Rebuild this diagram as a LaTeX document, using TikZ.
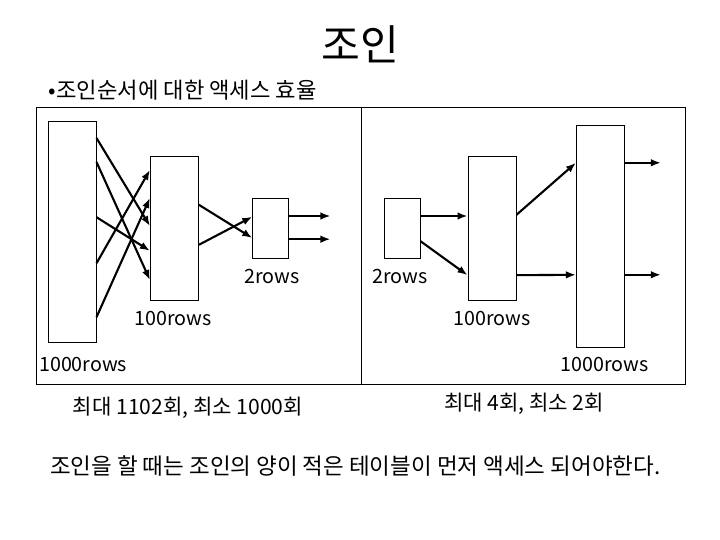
\documentclass[tikz,border=0pt]{standalone}
\usepackage{fontspec}
\setmainfont{Noto Sans CJK KR}
\usepackage{tikz}
\usetikzlibrary{arrows.meta, positioning, calc}

\begin{document}
\begin{tikzpicture}[
  every node/.style={font=\fontsize{15}{18}\selectfont},
  tbl/.style={draw, line width=0.7pt, inner sep=0pt, minimum width=12mm},
  rows/.style={font=\fontsize{14}{16}\selectfont},
  arr/.style={-{Latex[length=2.5mm, width=1.9mm]}, line width=1.5pt}
]
  \useasboundingbox (0,0) rectangle (18,13.5);
  \node[font=\fontsize{30}{34}\selectfont] (Title) at (9.0,12.4) {조인};
  \node[anchor=west, font=\fontsize{15.8}{18}\selectfont] (Sub) at (1.1,11.25) {•조인순서에 대한 액세스 효율};

  % frame
  \draw[line width=0.7pt] (0.9,3.9) rectangle (17.125,10.825);
  \draw[line width=0.7pt] (9.025,3.9) -- (9.025,10.825);

  % left: big table first
  \node[tbl, minimum height=55.2mm] (L1) at (1.8,7.71) {};
  \node[tbl, minimum height=35.8mm] (L2) at (4.36,7.79) {};
  \node[tbl, minimum width=8.8mm, minimum height=15mm] (L3) at (6.76,7.8) {};
  \node[rows] (L1r) at (2.08,4.38) {1000rows};
  \node[rows] (L2r) at (4.33,5.55) {100rows};
  \node[rows] (L3r) at (6.8,6.58) {2rows};
  \draw[arr] ([yshift=2.34cm]L1.east) -- ([yshift=0.06cm]L2.west);
  \draw[arr] ([yshift=1.74cm]L1.east) -- ([yshift=-1.29cm]L2.west);
  \draw[arr] ([yshift=0.36cm]L1.east) -- ([yshift=-0.56cm]L2.west);
  \draw[arr] ([yshift=-0.79cm]L1.east) -- ([yshift=1.46cm]L2.west);
  \draw[arr] ([yshift=-2.14cm]L1.east) -- ([yshift=0.76cm]L2.west);
  \draw[arr] ([yshift=0.59cm]L2.east) -- ([yshift=-0.25cm]L3.west);
  \draw[arr] ([yshift=-0.41cm]L2.east) -- ([yshift=0.28cm]L3.west);
  \draw[arr] ([yshift=0.3cm]L3.east) -- ++(1.05,0);
  \draw[arr] ([yshift=-0.28cm]L3.east) -- ++(1.05,0);

  % right: small table first
  \node[tbl, minimum width=9mm, minimum height=15mm] (R1) at (10.05,7.8) {};
  \node[tbl, minimum height=36mm] (R2) at (12.3,7.8) {};
  \node[tbl, minimum height=55.5mm] (R3) at (15.01,7.58) {};
  \node[rows] (R1r) at (10.0,6.6) {2rows};
  \node[rows] (R2r) at (12.3,5.55) {100rows};
  \node[rows] (R3r) at (15.12,4.38) {1000rows};
  \draw[arr] ([yshift=0.3cm]R1.east) -- ([yshift=0.3cm]R2.west);
  \draw[arr] ([yshift=-0.33cm]R1.east) -- ([yshift=-1.18cm]R2.west);
  \draw[arr] ([yshift=0.33cm]R2.east) -- ([yshift=1.85cm]R3.west);
  \draw[arr] ([yshift=-1.18cm]R2.east) -- ([yshift=-0.95cm]R3.west);
  \draw[arr] ([yshift=1.85cm]R3.east) -- ++(0.9,0);
  \draw[arr] ([yshift=-0.95cm]R3.east) -- ++(0.9,0);

  \node (Lcnt) at (4.7,3.3) {최대 1102회, 최소 1000회};
  \node (Rcnt) at (13.1,3.4) {최대 4회, 최소 2회};
  \node[font=\fontsize{16}{19}\selectfont] (Note) at (8.88,1.85) {조인을 할 때는 조인의 양이 적은 테이블이 먼저 액세스 되어야한다.};
\end{tikzpicture}
\end{document}
